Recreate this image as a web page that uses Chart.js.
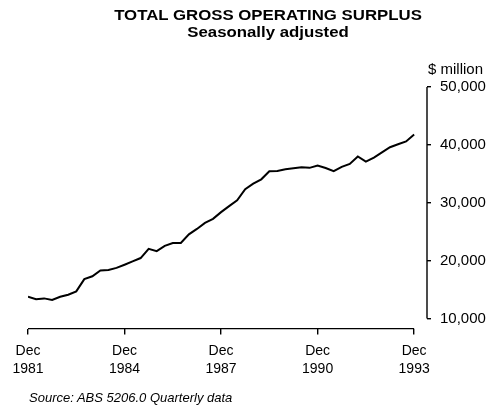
<!DOCTYPE html>
<html>
<head>
<meta charset="utf-8">
<script src="https://cdn.jsdelivr.net/npm/chart.js@4.4.0/dist/chart.umd.min.js"></script>
<style>
  html, body { margin: 0; padding: 0; background: #fff; }
  #wrap { position: relative; width: 494px; height: 409px; overflow: hidden;
          font-family: 'Liberation Sans', Arial, Helvetica, sans-serif; color: #000; }
  #chart { position: absolute; left: 0; top: 0; }
  .title { position: absolute; left: 268px; white-space: nowrap; font-weight: bold;
           font-size: 14px; line-height: 16px; transform: translateX(-50%) scaleX(1.2); }
  #unit { position: absolute; left: 428px; top: 61px; font-size: 15px; line-height: 16px; }
  #source { position: absolute; left: 29px; top: 391px; font-size: 13px; line-height: 14px; font-style: italic; }
</style>
</head>
<body>
<div id="wrap">
  <canvas id="chart" width="494" height="409"></canvas>
  <div class="title" style="top:7px">TOTAL GROSS OPERATING SURPLUS</div>
  <div class="title" style="top:24px">Seasonally adjusted</div>
  <div id="unit">$ million</div>
  <div id="source">Source: ABS 5206.0 Quarterly data</div>
</div>
<script>
// quarterly, Dec 1981 .. Dec 1993
const months = ['Mar', 'Jun', 'Sep', 'Dec'];
const quarters = ['Dec 1981'];
for (let y = 1982; y <= 1993; y++) months.forEach(m => quarters.push(m + ' ' + y));

// total gross operating surplus, $ million
const surplus = [
  13750, 13350, 13480, 13200, 13770, 14120, 14700, 16800, 17300, 18300, 18400, 18750,
  19300, 19880, 20450, 22050, 21650, 22560, 23040, 23040, 24550, 25480, 26520, 27220,
  28380, 29420, 30410, 32330, 33300, 34050, 35440, 35500, 35800, 35970, 36140, 36030,
  36430, 36000, 35450, 36200, 36700, 38000, 37100, 37800, 38700, 39600, 40100, 40600,
  41800
];

const xTickQuarters = ['Dec 1981', 'Dec 1984', 'Dec 1987', 'Dec 1990', 'Dec 1993'];
const yTicks = [10000, 20000, 30000, 40000, 50000];

const fmt = v => v.toLocaleString('en-US');

// plain axis lines that stop at the first/last tick, like the printed chart
const axisLines = {
  id: 'axisLines',
  afterDraw(chart) {
    const { ctx, chartArea, scales } = chart;
    const x = scales.x, y = scales.y;
    ctx.save();
    ctx.strokeStyle = '#000';
    ctx.lineWidth = 1.4;
    ctx.beginPath();
    ctx.moveTo(x.getPixelForValue(0), chartArea.bottom);
    ctx.lineTo(x.getPixelForValue(surplus.length - 1), chartArea.bottom);
    ctx.moveTo(chartArea.right, y.getPixelForValue(yTicks[0]));
    ctx.lineTo(chartArea.right, y.getPixelForValue(yTicks[yTicks.length - 1]));
    ctx.stroke();
    ctx.restore();
  }
};

new Chart(document.getElementById('chart'), {
  type: 'line',
  data: {
    datasets: [{
      data: surplus.map((v, i) => ({ x: i, y: v })),
      borderColor: '#000',
      borderWidth: 2,
      pointRadius: 0,
      tension: 0
    }]
  },
  options: {
    responsive: false,
    animation: false,
    layout: { padding: { left: 28, right: 0, top: 87, bottom: 24 } },
    plugins: { legend: { display: false }, tooltip: { enabled: false } },
    scales: {
      x: {
        type: 'linear',
        min: 0,
        max: 49.6,
        border: { display: false },
        grid: { drawOnChartArea: false, drawTicks: true, tickLength: 6, color: '#000', lineWidth: 1.4 },
        afterBuildTicks: s => { s.ticks = xTickQuarters.map(q => ({ value: quarters.indexOf(q) })); },
        ticks: {
          autoSkip: false,
          maxRotation: 0,
          padding: 7,
          color: '#000',
          font: { family: "'Liberation Sans', Arial, sans-serif", size: 14, lineHeight: 1.3 },
          callback: v => quarters[v].split(' ')
        }
      },
      y: {
        position: 'right',
        min: 8260,
        max: 50000,
        border: { display: false },
        grid: { drawOnChartArea: false, drawTicks: true, tickLength: 4, color: '#000', lineWidth: 1.4 },
        afterBuildTicks: s => { s.ticks = yTicks.map(v => ({ value: v })); },
        afterFit: s => { s.width = 67; },
        ticks: {
          padding: 9,
          color: '#000',
          font: { family: "'Liberation Sans', Arial, sans-serif", size: 15 },
          callback: v => fmt(v)
        }
      }
    }
  },
  plugins: [axisLines]
});
</script>
</body>
</html>
